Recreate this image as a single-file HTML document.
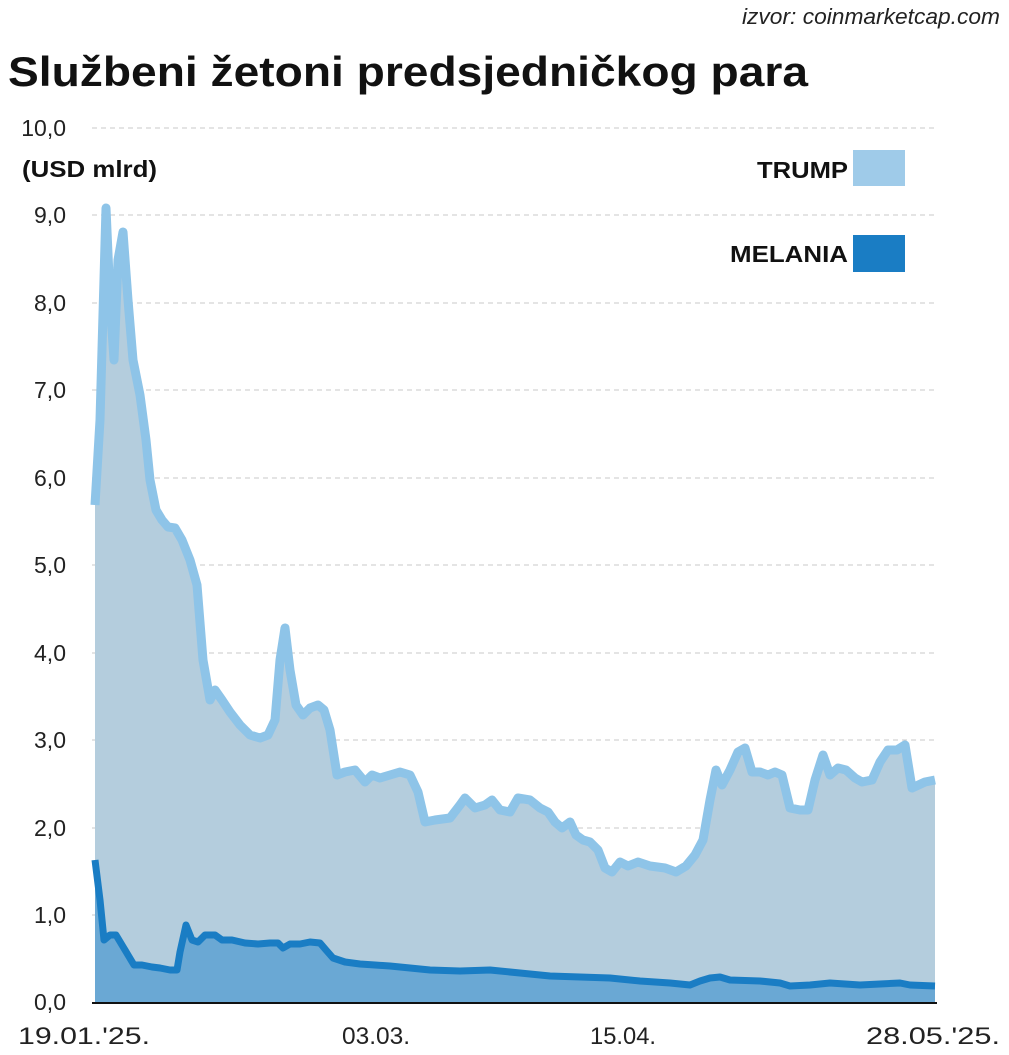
<!DOCTYPE html><html><head><meta charset="utf-8"><style>body{margin:0;background:#fff}svg{display:block}text{font-family:"Liberation Sans",sans-serif}</style></head><body>
<svg width="1009" height="1055" viewBox="0 0 1009 1055">
<text x="742" y="24" textLength="258" lengthAdjust="spacingAndGlyphs" font-size="22" font-style="italic" fill="#222">izvor: coinmarketcap.com</text>
<text x="8" y="86" textLength="800" lengthAdjust="spacingAndGlyphs" font-size="42" font-weight="bold" fill="#111">Službeni žetoni predsjedničkog para</text>
<g stroke="#c8c8c8" stroke-width="1" stroke-dasharray="5,4">
<line x1="92" x2="935" y1="128" y2="128"/><line x1="92" x2="935" y1="215" y2="215"/><line x1="92" x2="935" y1="303" y2="303"/><line x1="92" x2="935" y1="390" y2="390"/><line x1="92" x2="935" y1="478" y2="478"/><line x1="92" x2="935" y1="565" y2="565"/><line x1="92" x2="935" y1="653" y2="653"/><line x1="92" x2="935" y1="740" y2="740"/><line x1="92" x2="935" y1="828" y2="828"/><line x1="92" x2="935" y1="915" y2="915"/>
</g>
<g font-size="23" fill="#222" text-anchor="end">
<text x="66" y="136">10,0</text><text x="66" y="223">9,0</text><text x="66" y="311">8,0</text><text x="66" y="398">7,0</text><text x="66" y="486">6,0</text><text x="66" y="573">5,0</text><text x="66" y="661">4,0</text><text x="66" y="748">3,0</text><text x="66" y="836">2,0</text><text x="66" y="923">1,0</text><text x="66" y="1010">0,0</text>
</g>
<text x="22" y="177" textLength="135" lengthAdjust="spacingAndGlyphs" font-size="23" font-weight="bold" fill="#111">(USD mlrd)</text>
<polygon fill="#b4cddd" points="95,1002 95,505 100,420 106,208 110,300 114,360 118,260 123,232 128,300 133,360 140,395 146,440 150,480 156,510 162,520 168,527 175,528 182,540 190,560 197,585 203,660 210,700 215,690 222,700 230,712 240,725 250,735 260,738 268,735 275,720 280,660 285,628 290,670 296,705 303,715 310,708 318,705 324,710 330,730 337,775 345,772 355,770 365,782 372,775 380,778 390,775 400,772 410,775 418,792 425,822 435,820 450,818 460,805 465,798 475,808 485,805 492,800 500,810 510,812 518,798 530,800 540,808 548,812 555,822 562,828 570,822 576,835 583,840 590,842 598,850 605,868 612,872 620,862 628,866 638,862 650,866 665,868 676,872 686,866 695,855 703,840 710,800 716,770 722,785 730,770 738,752 745,748 752,772 760,772 768,775 775,772 782,775 790,808 800,810 808,810 815,780 823,755 830,775 838,768 846,770 855,778 862,782 872,780 880,762 888,750 897,750 905,745 912,788 925,782 935,780 935,1002"/>
<polyline fill="none" stroke="#8ec4e8" stroke-width="9" stroke-linejoin="round" points="95,505 100,420 106,208 110,300 114,360 118,260 123,232 128,300 133,360 140,395 146,440 150,480 156,510 162,520 168,527 175,528 182,540 190,560 197,585 203,660 210,700 215,690 222,700 230,712 240,725 250,735 260,738 268,735 275,720 280,660 285,628 290,670 296,705 303,715 310,708 318,705 324,710 330,730 337,775 345,772 355,770 365,782 372,775 380,778 390,775 400,772 410,775 418,792 425,822 435,820 450,818 460,805 465,798 475,808 485,805 492,800 500,810 510,812 518,798 530,800 540,808 548,812 555,822 562,828 570,822 576,835 583,840 590,842 598,850 605,868 612,872 620,862 628,866 638,862 650,866 665,868 676,872 686,866 695,855 703,840 710,800 716,770 722,785 730,770 738,752 745,748 752,772 760,772 768,775 775,772 782,775 790,808 800,810 808,810 815,780 823,755 830,775 838,768 846,770 855,778 862,782 872,780 880,762 888,750 897,750 905,745 912,788 925,782 935,780"/>
<polygon fill="#6aa8d4" points="95,1002 95,860 100,900 104,940 110,935 116,935 122,945 128,955 134,965 142,965 152,967 160,968 170,970 177,970 180,952 186,925 192,940 198,942 205,935 215,935 222,940 232,940 245,943 258,944 270,943 278,943 283,948 290,944 300,944 310,942 320,943 326,950 333,958 345,962 360,964 375,965 390,966 410,968 430,970 460,971 490,970 520,973 550,976 580,977 610,978 640,981 670,983 690,985 700,981 710,978 720,977 730,980 760,981 780,983 790,986 810,985 830,983 860,985 880,984 900,983 910,985 935,986 935,1002"/>
<polyline fill="none" stroke="#1a7dc4" stroke-width="7" stroke-linejoin="round" points="95,860 100,900 104,940 110,935 116,935 122,945 128,955 134,965 142,965 152,967 160,968 170,970 177,970 180,952 186,925 192,940 198,942 205,935 215,935 222,940 232,940 245,943 258,944 270,943 278,943 283,948 290,944 300,944 310,942 320,943 326,950 333,958 345,962 360,964 375,965 390,966 410,968 430,970 460,971 490,970 520,973 550,976 580,977 610,978 640,981 670,983 690,985 700,981 710,978 720,977 730,980 760,981 780,983 790,986 810,985 830,983 860,985 880,984 900,983 910,985 935,986"/>
<line x1="92" x2="937" y1="1003" y2="1003" stroke="#111" stroke-width="2"/>
<g font-size="24" fill="#222">
<text x="18" y="1044" textLength="132" lengthAdjust="spacingAndGlyphs">19.01.'25.</text><text x="342" y="1044" textLength="68" lengthAdjust="spacingAndGlyphs">03.03.</text><text x="590" y="1044" textLength="66" lengthAdjust="spacingAndGlyphs">15.04.</text><text x="866" y="1044" textLength="134" lengthAdjust="spacingAndGlyphs">28.05.'25.</text>
</g>
<text x="848" y="178" text-anchor="end" textLength="91" lengthAdjust="spacingAndGlyphs" font-size="23" font-weight="bold" fill="#111">TRUMP</text>
<rect x="853" y="150" width="52" height="36" fill="#9fcbe9"/>
<text x="848" y="262" text-anchor="end" textLength="118" lengthAdjust="spacingAndGlyphs" font-size="23" font-weight="bold" fill="#111">MELANIA</text>
<rect x="853" y="235" width="52" height="37" fill="#1a7dc4"/>
</svg></body></html>
